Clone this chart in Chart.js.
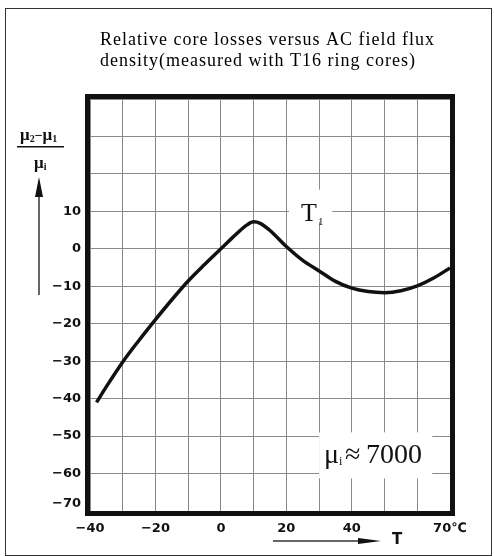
<!DOCTYPE html>
<html>
<head>
<meta charset="utf-8">
<script src="https://cdn.jsdelivr.net/npm/chart.js@4.4.0/dist/chart.umd.min.js"></script>
<style>
html,body{margin:0;padding:0;background:#fff;}
#wrap{width:494px;height:556px;}
</style>
</head>
<body>
<div id="wrap"><canvas id="c" width="494" height="556"></canvas></div>
<script>
// temperature T (℃) and (mu2-mu1)/mui
const temps = [-38, -35, -30, -25, -20, -15, -10, -5, 0, 5, 8, 10, 12, 15, 20, 25, 30, 35, 40, 45, 50, 55, 60, 65, 70];
const ratio = [-41, -36.8, -30.2, -24.4, -18.9, -13.6, -8.6, -4.2, 0, 4.2, 6.4, 7.2, 6.8, 4.9, 0.6, -3.1, -5.9, -8.7, -10.5, -11.4, -11.7, -11.2, -9.9, -7.8, -5.1];

const xLabelTicks = [-40, -20, 0, 20, 40, 70];
const yLabelTicks = [10, 0, -10, -20, -30, -40, -50, -60, -70];
const titleLines = ['Relative core losses versus AC field flux', 'density(measured with T16 ring cores)'];

function fmt(v){
    return v < 0 ? '\u2212' + Math.abs(v) : String(v);
}

const tickFont = {family:'DejaVu Sans', weight:'bold', size:13};
const serif = 'Liberation Serif';

function subText(ctx, parts, x, y){
    // parts: [text, size, dy]
    parts.forEach(p => {
        ctx.font = 'bold ' + p[1] + 'px "' + serif + '"';
        ctx.fillText(p[0], x, y + p[2]);
        x += ctx.measureText(p[0]).width;
    });
    return x;
}

const decor = {
    id:'decor',
    beforeDatasetsDraw(chart){
        const ctx = chart.ctx, xs = chart.scales.x, ys = chart.scales.y;
        ctx.save();
        ctx.fillStyle = '#fff';
        // blank boxes behind the two labels
        let x0 = xs.getPixelForValue(20.8), x1 = xs.getPixelForValue(34);
        let y0 = ys.getPixelForValue(15.8), y1 = ys.getPixelForValue(7.2);
        ctx.fillRect(x0, y0, x1 - x0, y1 - y0);
        x0 = xs.getPixelForValue(30); x1 = xs.getPixelForValue(64.6);
        y0 = ys.getPixelForValue(-49); y1 = ys.getPixelForValue(-61.3);
        ctx.fillRect(x0, y0, x1 - x0, y1 - y0);
        ctx.restore();
    },
    afterDraw(chart){
        const ctx = chart.ctx, a = chart.chartArea, xs = chart.scales.x, ys = chart.scales.y;
        ctx.save();
        // thin outer frame
        ctx.strokeStyle = '#333';
        ctx.lineWidth = 1;
        ctx.strokeRect(5.5, 8.5, 486, 547);
        // heavy plot frame
        ctx.strokeStyle = '#111';
        ctx.lineWidth = 5;
        ctx.strokeRect(a.left - 2.5, a.top - 2.5, a.right - a.left + 5, a.bottom - a.top + 5);

        // title
        ctx.fillStyle = '#000';
        ctx.textBaseline = 'alphabetic';
        ctx.textAlign = 'left';
        ctx.font = '18px "' + serif + '"';
        ctx.letterSpacing = '1px';
        ctx.fillText(titleLines[0], 100, 45);
        ctx.fillText(titleLines[1], 100, 66);
        ctx.letterSpacing = '0px';

        // y axis name
        ctx.fillStyle = '#111';
        subText(ctx, [['\u03bc',17,0],['2',10,2],['\u2212',14,0],['\u03bc',17,0],['1',10,2]], 20, 140);
        ctx.fillRect(17, 146, 47, 1.5);
        subText(ctx, [['\u03bc',17,0],['i',10,2]], 34, 168);
        ctx.strokeStyle = '#333';
        ctx.lineWidth = 1.5;
        ctx.beginPath(); ctx.moveTo(39, 295); ctx.lineTo(39, 190); ctx.stroke();
        ctx.beginPath(); ctx.moveTo(39, 177); ctx.lineTo(43, 197); ctx.lineTo(35, 197); ctx.closePath(); ctx.fill();

        // x axis name
        ctx.beginPath(); ctx.moveTo(273, 541); ctx.lineTo(365, 541); ctx.stroke();
        ctx.beginPath(); ctx.moveTo(381, 541); ctx.lineTo(358, 538); ctx.lineTo(358, 544); ctx.closePath(); ctx.fill();
        ctx.font = 'bold 15px "DejaVu Sans"';
        ctx.fillText('T', 392, 544);

        // curve name
        ctx.font = '26px "' + serif + '"';
        let tx = xs.getPixelForValue(24.5), ty = ys.getPixelForValue(7.5);
        ctx.fillText('T', tx, ty);
        ctx.font = '11px "' + serif + '"';
        ctx.fillText('1', tx + 17, ty + 4);

        // initial permeability note
        tx = xs.getPixelForValue(31.5); ty = ys.getPixelForValue(-57.3);
        ctx.font = '28px "' + serif + '"';
        ctx.fillText('\u03bc', tx, ty);
        let w = ctx.measureText('\u03bc').width;
        ctx.font = '12px "' + serif + '"';
        ctx.fillText('i', tx + w, ty + 2);
        ctx.font = '28px "' + serif + '"';
        ctx.fillText('\u2248', tx + w + 6, ty);
        ctx.fillText('7000', tx + w + 27, ty);
        ctx.restore();
    }
};

new Chart(document.getElementById('c').getContext('2d'), {
    type:'line',
    data:{
        datasets:[{
            data: temps.map((t, i) => ({x:t, y:ratio[i]})),
            borderColor:'#111',
            borderWidth:3.5,
            pointRadius:0,
            cubicInterpolationMode:'monotone',
            fill:false
        }]
    },
    options:{
        responsive:false,
        animation:false,
        layout:{padding:{left:0, right:44, top:99, bottom:15}},
        plugins:{legend:{display:false}, tooltip:{enabled:false}},
        scales:{
            x:{
                type:'linear', min:-40, max:70,
                afterFit(s){ s.height = 30; },
                border:{display:false},
                grid:{color:'#8a8a8a', lineWidth:1, drawTicks:false},
                ticks:{
                    stepSize:10, autoSkip:false, maxRotation:0, padding:10,
                    color:'#111', font:tickFont,
                    callback(v){
                        if(!xLabelTicks.includes(v)) return '';
                        return v === 70 ? '70\u2103' : fmt(v);
                    }
                }
            },
            y:{
                type:'linear', min:-70, max:40,
                afterFit(s){ s.width = 90; },
                border:{display:false},
                grid:{color:'#8a8a8a', lineWidth:1, drawTicks:false},
                ticks:{
                    stepSize:10, autoSkip:false, padding:9,
                    color:'#111', font:tickFont,
                    callback(v){
                        if(!yLabelTicks.includes(v)) return '';
                        // bottom label sits above the frame
                        return v === -70 ? [fmt(v), ''] : fmt(v);
                    }
                }
            }
        }
    },
    plugins:[decor]
});
</script>
</body>
</html>
